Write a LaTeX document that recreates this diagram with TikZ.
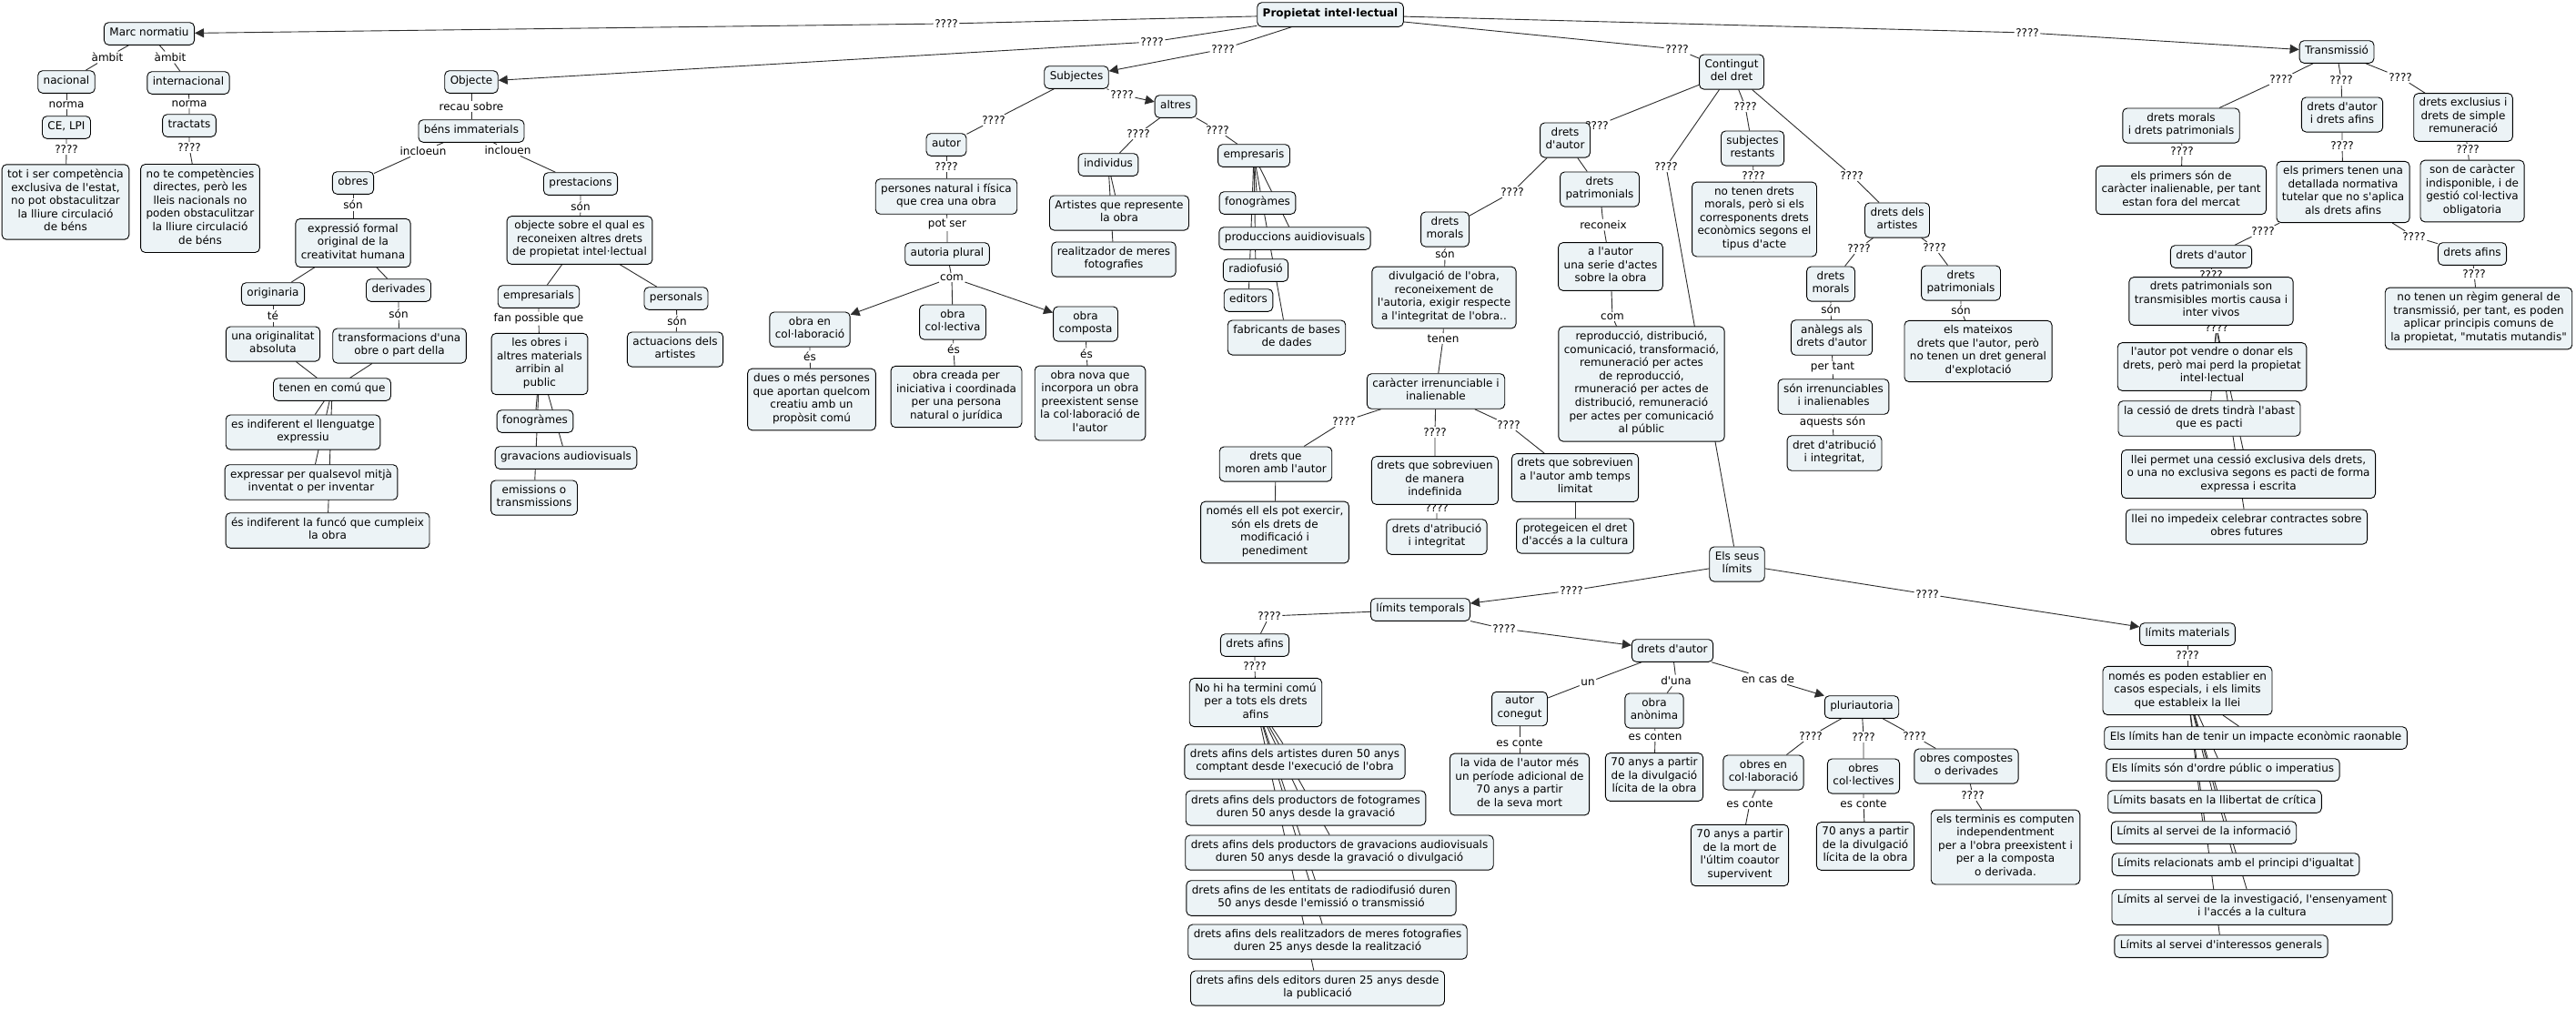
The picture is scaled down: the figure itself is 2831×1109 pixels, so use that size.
\documentclass[tikz,border=0pt]{standalone}
\usepackage{fontspec}
\setmainfont{DejaVu Sans}[Ligatures=TeXOff]
\usetikzlibrary{arrows.meta,backgrounds}
\definecolor{boxfill}{RGB}{236,243,246}
\definecolor{linkgray}{RGB}{45,45,45}
\tikzset{
  concept/.style={draw, line width=0.9pt, rounded corners=5pt, fill=boxfill,
    align=center, inner xsep=6pt, inner ysep=5pt,
    execute at begin node=\strut, execute at end node=\strut},
  lbl/.style={inner sep=1.5pt, align=center},
  link/.style={draw=linkgray, line width=0.9pt},
  arr/.style={link, -{Triangle[length=10pt,width=10pt]}}
}
\begin{document}
\begin{tikzpicture}[x=1pt,y=-1pt,font=\fontsize{12}{14.6}\selectfont]
  \useasboundingbox (0,0) rectangle (2831,1109);

  \node[concept, inner ysep=6pt] at (1462,16) (root) {\textbf{Propietat intel·lectual}};
  \node[lbl] at (1040,26) (q1) {????};
  \node[lbl] at (1266,46) (q2) {????};
  \node[lbl] at (1344,54) (q3) {????};
  \node[lbl] at (1843,54) (q4) {????};
  \node[lbl] at (2228,36) (q5) {????};

  \node[concept] at (164,37) (marc) {Marc normatiu};
  \node[lbl] at (118,63) (amb1) {àmbit};
  \node[lbl] at (187,63) (amb2) {àmbit};
  \node[concept] at (73,90) (nacional) {nacional};
  \node[concept] at (207,91) (internacional) {internacional};
  \node[lbl] at (73,115) (norma1) {norma};
  \node[lbl] at (208,114) (norma2) {norma};
  \node[concept] at (73,140) (celpi) {CE, LPI};
  \node[concept] at (208,138) (tractats) {tractats};
  \node[lbl] at (73,164) (q6) {????};
  \node[lbl] at (208,162) (q7) {????};
  \node[concept] at (72,222) (totiser) {tot i ser competència\\exclusiva de l'estat,\\no pot obstaculitzar\\la lliure circulació\\de béns};
  \node[concept] at (220,229) (note) {no te competències\\directes, però les\\lleis nacionals no\\poden obstaculitzar\\la lliure circulació\\de béns};

  \node[concept] at (518,90) (objecte) {Objecte};
  \node[lbl] at (518,117) (recau) {recau sobre};
  \node[concept] at (518,144) (bens) {béns immaterials};
  \node[lbl] at (465,166) (incloeun) {incloeun};
  \node[lbl] at (558,165) (inclouen) {inclouen};
  \node[concept] at (388,201) (obres) {obres};
  \node[concept] at (638,202) (prestacions) {prestacions};
  \node[lbl] at (388,225) (son1) {són};
  \node[lbl] at (638,227) (son2) {són};
  \node[concept] at (388,267) (expressio) {expressió formal\\original de la\\creativitat humana};
  \node[concept] at (637,264) (objsobre) {objecte sobre el qual es\\reconeixen altres drets\\de propietat intel·lectual};
  \node[concept] at (300,323) (originaria) {originaria};
  \node[concept] at (438,319) (derivades) {derivades};
  \node[lbl] at (300,347) (te) {té};
  \node[lbl] at (438,345) (son3) {són};
  \node[concept] at (300,378) (originalitat) {una originalitat\\absoluta};
  \node[concept] at (439,380) (transform) {transformacions d'una\\obre o part della};
  \node[concept] at (365,428) (tenencomu) {tenen en comú que};
  \node[concept] at (333,475) (indifllenguatge) {es indiferent el llenguatge\\expressiu};
  \node[concept] at (342,530) (expressar) {expressar per qualsevol mitjà\\inventat o per inventar};
  \node[concept] at (360,583) (indiffuncio) {és indiferent la funcó que cumpleix\\la obra};
  \node[concept] at (592,326) (empresarials) {empresarials};
  \node[concept] at (743,328) (personals) {personals};
  \node[lbl] at (592,350) (fan) {fan possible que};
  \node[lbl] at (744,353) (son4) {són};
  \node[concept] at (593,400) (obresmaterials) {les obres i\\altres materials\\arribin al\\public};
  \node[concept] at (742,384) (actuacions) {actuacions dels\\artistes};
  \node[concept] at (588,463) (fonogramesA) {fonogràmes};
  \node[concept] at (622,503) (gravacions) {gravacions audiovisuals};
  \node[concept] at (587,547) (emissions) {emissions o\\transmissions};

  \node[concept] at (1183,85) (subjectes) {Subjectes};
  \node[lbl] at (1233,104) (q9) {????};
  \node[concept] at (1292,117) (altres) {altres};
  \node[lbl] at (1092,132) (q8) {????};
  \node[concept] at (1040,159) (autor) {autor};
  \node[lbl] at (1040,183) (q10) {????};
  \node[concept] at (1040,216) (persones) {persones natural i física\\que crea una obra};
  \node[lbl] at (1041,247) (potser) {pot ser};
  \node[concept] at (1041,279) (autoria) {autoria plural};
  \node[lbl] at (1046,305) (com1) {com};
  \node[concept] at (890,362) (obracol) {obra en\\col·laboració};
  \node[concept] at (1047,354) (obracolect) {obra\\col·lectiva};
  \node[concept] at (1193,356) (obracomp) {obra\\composta};
  \node[lbl] at (890,392) (es1) {és};
  \node[lbl] at (1048,384) (es2) {és};
  \node[lbl] at (1194,389) (es3) {és};
  \node[concept] at (892,439) (duesmes) {dues o més persones\\que aportan quelcom\\creatiu amb un\\propòsit comú};
  \node[concept] at (1051,436) (obracreada) {obra creada per\\iniciativa i coordinada\\per una persona\\natural o jurídica};
  \node[concept] at (1198,443) (obranova) {obra nova que\\incorpora un obra\\preexistent sense\\la col·laboració de\\l'autor};
  \node[lbl] at (1251,147) (q11) {????};
  \node[lbl] at (1338,143) (q12) {????};
  \node[concept] at (1218,181) (individus) {individus};
  \node[concept] at (1230,234) (artistes) {Artistes que represente\\la obra};
  \node[concept] at (1224,285) (realitzador) {realitzador de meres\\fotografies};
  \node[concept] at (1378,171) (empresaris) {empresaris};
  \node[concept] at (1382,223) (fonogramesB) {fonogràmes};
  \node[concept] at (1423,262) (produccions) {produccions auidiovisuals};
  \node[concept] at (1380,297) (radiofusio) {radiofusió};
  \node[concept] at (1372,330) (editors) {editors};
  \node[concept] at (1414,371) (fabricants) {fabricants de bases\\de dades};

  \node[concept] at (1903,79) (contingut) {Contingut\\del dret};
  \node[lbl] at (1755,138) (q13) {????};
  \node[lbl] at (1831,183) (q14) {????};
  \node[lbl] at (1918,117) (q15) {????};
  \node[lbl] at (2035,193) (q16) {????};
  \node[concept] at (1720,154) (dautor) {drets\\d'autor};
  \node[lbl] at (1662,211) (q17) {????};
  \node[concept] at (1588,252) (dmorals) {drets\\morals};
  \node[concept] at (1758,208) (dpatrim) {drets\\patrimonials};
  \node[lbl] at (1588,279) (son5) {són};
  \node[concept] at (1587,327) (divulgacio) {divulgació de l'obra,\\reconeixement de\\l'autoria, exigir respecte\\a l'integritat de l'obra..};
  \node[lbl] at (1586,372) (tenen) {tenen};
  \node[concept] at (1578,430) (caracter) {caràcter irrenunciable i\\inalienable};
  \node[lbl] at (1477,463) (q18) {????};
  \node[lbl] at (1577,475) (q19) {????};
  \node[lbl] at (1658,467) (q20) {????};
  \node[concept] at (1402,510) (moren) {drets que\\moren amb l'autor};
  \node[concept] at (1401,585) (nomesell) {només ell els pot exercir,\\són els drets de\\modificació i\\penediment};
  \node[lbl] at (1579,558) (q21) {????};
  \node[concept] at (1577,528) (indefinida) {drets que sobreviuen\\de manera\\indefinida};
  \node[concept] at (1579,590) (datribucio) {drets d'atribució\\i integritat};
  \node[concept] at (1731,525) (limitat) {drets que sobreviuen\\a l'autor amb temps\\limitat};
  \node[concept] at (1731,589) (protegeicen) {protegeicen el dret\\d'accés a la cultura};
  \node[lbl] at (1762,247) (reconeix) {reconeix};
  \node[concept] at (1770,293) (alautor) {a l'autor\\una serie d'actes\\sobre la obra};
  \node[lbl] at (1772,348) (com2) {com};
  \node[concept] at (1804,422) (reproduccio) {reproducció, distribució,\\comunicació, transformació,\\remuneració per actes\\de reproducció,\\rmuneració per actes de\\distribució, remuneració\\per actes per comunicació\\al públic};
  \node[concept] at (1926,163) (subrest) {subjectes\\restants};
  \node[lbl] at (1927,193) (q22) {????};
  \node[concept] at (1928,241) (notenen) {no tenen drets\\morals, però si els\\corresponents drets\\econòmics segons el\\tipus d'acte};
  \node[concept] at (2085,242) (dartistes) {drets dels\\artistes};
  \node[lbl] at (2043,273) (q23) {????};
  \node[lbl] at (2126,272) (q24) {????};
  \node[concept] at (2012,312) (dmoralsB) {drets\\morals};
  \node[lbl] at (2012,340) (son6) {són};
  \node[concept] at (2013,371) (analegs) {anàlegs als\\drets d'autor};
  \node[lbl] at (2014,404) (pertant) {per tant};
  \node[concept] at (2015,436) (irrenunciables) {són irrenunciables\\i inalienables};
  \node[lbl] at (2014,464) (aquests) {aquests són};
  \node[concept] at (2016,498) (datribucioB) {dret d'atribució\\i integritat,};
  \node[concept] at (2155,311) (dpatrimB) {drets\\patrimonials};
  \node[lbl] at (2155,341) (son7) {són};
  \node[concept] at (2174,386) (mateixos) {els mateixos\\drets que l'autor, però\\no tenen un dret general\\d'explotació};

  \node[concept] at (2568,57) (transmissio) {Transmissió};
  \node[lbl] at (2507,87) (q25) {????};
  \node[lbl] at (2573,88) (q26) {????};
  \node[lbl] at (2638,85) (q27) {????};
  \node[concept] at (2397,138) (tmorals) {drets morals\\i drets patrimonials};
  \node[concept] at (2574,126) (tautor) {drets d'autor\\i drets afins};
  \node[concept] at (2707,129) (texclusius) {drets exclusius i\\drets de simple\\remuneració};
  \node[lbl] at (2398,166) (q28) {????};
  \node[lbl] at (2574,160) (q29) {????};
  \node[lbl] at (2712,164) (q30) {????};
  \node[concept] at (2397,209) (tprimers) {els primers són de\\caràcter inalienable, per tant\\estan fora del mercat};
  \node[concept] at (2575,211) (tprimersB) {els primers tenen una\\detallada normativa\\tutelar que no s'aplica\\als drets afins};
  \node[concept] at (2717,210) (tcaracter) {son de caràcter\\indisponible, i de\\gestió col·lectiva\\obligatoria};
  \node[lbl] at (2487,254) (q31) {????};
  \node[lbl] at (2653,260) (q32) {????};
  \node[lbl] at (2430,302) (q34) {????};
  \node[lbl] at (2436,360) (q35) {????};
  \node[concept] at (2430,282) (tdautor) {drets d'autor};
  \node[concept] at (2717,279) (tdafins) {drets afins};
  \node[lbl] at (2719,301) (q33) {????};
  \node[concept] at (2724,350) (tregim) {no tenen un règim general de\\transmissió, per tant, es poden\\aplicar principis comuns de\\la propietat, "mutatis mutandis"};
  \node[concept] at (2430,331) (tpatrim) {drets patrimonials son\\transmisibles mortis causa i\\inter vivos};
  \node[concept] at (2431,403) (tvendre) {l'autor pot vendre o donar els\\drets, però mai perd la propietat\\intel·lectual};
  \node[concept] at (2428,460) (tcessio) {la cessió de drets tindrà l'abast\\que es pacti};
  \node[concept] at (2471,521) (tpermet) {llei permet una cessió exclusiva dels drets,\\o una no exclusiva segons es pacti de forma\\expressa i escrita};
  \node[concept] at (2469,579) (tnoimpedeix) {llei no impedeix celebrar contractes sobre\\obres futures};

  \node[concept] at (1909,620) (limits) {Els seus\\límits};
  \node[lbl] at (1727,649) (q36) {????};
  \node[lbl] at (2118,653) (q37) {????};
  \node[concept] at (1561,670) (temporals) {límits temporals};
  \node[lbl] at (1395,677) (q38) {????};
  \node[lbl] at (1653,691) (q39) {????};
  \node[concept] at (1379,709) (lafins) {drets afins};
  \node[lbl] at (1379,732) (q40) {????};
  \node[concept] at (1380,772) (nohiha) {No hi ha termini comú\\per a tots els drets\\afins};
  \node[concept] at (1423,837) (afins1) {drets afins dels artistes duren 50 anys\\comptant desde l'execució de l'obra};
  \node[concept] at (1435,888) (afins2) {drets afins dels productors de fotogrames\\duren 50 anys desde la gravació};
  \node[concept] at (1472,937) (afins3) {drets afins dels productors de gravacions audiovisuals\\duren 50 anys desde la gravació o divulgació};
  \node[concept] at (1452,987) (afins4) {drets afins de les entitats de radiodifusió duren\\50 anys desde l'emissió o transmissió};
  \node[concept] at (1459,1035) (afins5) {drets afins dels realitzadors de meres fotografies\\duren 25 anys desde la realització};
  \node[concept] at (1448,1086) (afins6) {drets afins dels editors duren 25 anys desde\\la publicació};
  \node[concept] at (1838,715) (ldautor) {drets d'autor};
  \node[lbl] at (1745,750) (un) {un};
  \node[lbl] at (1842,748) (duna) {d'una};
  \node[lbl] at (1943,746) (encas) {en cas de};
  \node[concept] at (1670,779) (conegut) {autor\\conegut};
  \node[concept] at (1818,781) (anonima) {obra\\anònima};
  \node[lbl] at (1670,816) (esconte1) {es conte};
  \node[lbl] at (1819,809) (esconten) {es conten};
  \node[concept] at (1670,862) (vida) {la vida de l'autor més\\un període adicional de\\70 anys a partir\\de la seva mort};
  \node[concept] at (1818,854) (setantaA) {70 anys a partir\\de la divulgació\\lícita de la obra};
  \node[concept] at (2046,777) (pluri) {pluriautoria};
  \node[lbl] at (1990,809) (q41) {????};
  \node[lbl] at (2048,810) (q42) {????};
  \node[lbl] at (2104,809) (q43) {????};
  \node[concept] at (1938,849) (pcolab) {obres en\\col·laboració};
  \node[concept] at (2048,853) (pcolect) {obres\\col·lectives};
  \node[concept] at (2161,842) (pcomp) {obres compostes\\o derivades};
  \node[lbl] at (1923,883) (esconte2) {es conte};
  \node[lbl] at (2048,883) (esconte3) {es conte};
  \node[lbl] at (2168,874) (q44) {????};
  \node[concept] at (1912,940) (setantaB) {70 anys a partir\\de la mort de\\l'últim coautor\\supervivent};
  \node[concept] at (2050,930) (setantaC) {70 anys a partir\\de la divulgació\\lícita de la obra};
  \node[concept] at (2204,931) (terminis) {els terminis es computen\\independentment\\per a l'obra preexistent i\\per a la composta\\o derivada.};
  \node[concept] at (2404,697) (materials) {límits materials};
  \node[lbl] at (2404,720) (q45) {????};
  \node[concept] at (2404,759) (nomeses) {només es poden establier en\\casos especials, i els limits\\que estableix la llei};
  \node[concept] at (2479,811) (mat1) {Els límits han de tenir un impacte econòmic raonable};
  \node[concept] at (2443,846) (mat2) {Els límits són d'ordre públic o imperatius};
  \node[concept] at (2434,881) (mat3) {Límits basats en la llibertat de crítica};
  \node[concept] at (2422,915) (mat4) {Límits al servei de la informació};
  \node[concept] at (2457,950) (mat5) {Límits relacionats amb el principi d'igualtat};
  \node[concept] at (2475,997) (mat6) {Límits al servei de la investigació, l'ensenyament\\i l'accés a la cultura};
  \node[concept] at (2441,1040) (mat7) {Límits al servei d'interessos generals};

  \begin{pgfonlayer}{background}
    \fill[white] (0,0) rectangle (2831,1109);

    \draw[arr] (root) -- (q1) -- (marc);
    \draw[arr] (root) -- (q2) -- (objecte);
    \draw[arr] (root) -- (q3) -- (subjectes);
    \draw[link] (root) -- (q4) -- (contingut);
    \draw[arr] (root) -- (q5) -- (transmissio);

    \draw[link] (marc) -- (amb1) -- (nacional);
    \draw[link] (marc) -- (amb2) -- (internacional);
    \draw[link] (nacional) -- (norma1) -- (celpi);
    \draw[link] (internacional) -- (norma2) -- (tractats);
    \draw[link] (celpi) -- (q6) -- (totiser);
    \draw[link] (tractats) -- (q7) -- (note);

    \draw[link] (objecte) -- (recau) -- (bens);
    \draw[link] (bens) -- (incloeun) -- (obres);
    \draw[link] (bens) -- (inclouen) -- (prestacions);
    \draw[link] (obres) -- (son1) -- (expressio);
    \draw[link] (prestacions) -- (son2) -- (objsobre);
    \draw[link] (expressio) -- (originaria);
    \draw[link] (expressio) -- (derivades);
    \draw[link] (originaria) -- (te) -- (originalitat);
    \draw[link] (derivades) -- (son3) -- (transform);
    \draw[link] (originalitat) -- (tenencomu);
    \draw[link] (transform) -- (tenencomu);
    \foreach \n in {indifllenguatge,expressar,indiffuncio}
      \draw[link] (tenencomu) -- (\n);
    \draw[link] (objsobre) -- (empresarials);
    \draw[link] (objsobre) -- (personals);
    \draw[link] (empresarials) -- (fan) -- (obresmaterials);
    \draw[link] (personals) -- (son4) -- (actuacions);
    \foreach \n in {fonogramesA,gravacions,emissions}
      \draw[link] (obresmaterials) -- (\n);

    \draw[link] (subjectes) -- (q8) -- (autor);
    \draw[arr] (subjectes) -- (q9) -- (altres);
    \draw[link] (autor) -- (q10) -- (persones);
    \draw[link] (persones) -- (potser) -- (autoria);
    \draw[link] (autoria) -- (com1);
    \draw[arr] (com1) -- (obracol);
    \draw[link] (com1) -- (obracolect);
    \draw[arr] (com1) -- (obracomp);
    \draw[link] (obracol) -- (es1) -- (duesmes);
    \draw[link] (obracolect) -- (es2) -- (obracreada);
    \draw[link] (obracomp) -- (es3) -- (obranova);
    \draw[link] (altres) -- (q11) -- (individus);
    \draw[link] (altres) -- (q12) -- (empresaris);
    \foreach \n in {artistes,realitzador}
      \draw[link] (individus) -- (\n);
    \foreach \n in {fonogramesB,produccions,radiofusio,editors,fabricants}
      \draw[link] (empresaris) -- (\n);

    \draw[link] (contingut) -- (q13) -- (dautor);
    \draw[link] (contingut) -- (q14) -- (limits);
    \draw[link] (contingut) -- (q15) -- (subrest);
    \draw[link] (contingut) -- (q16) -- (dartistes);
    \draw[link] (dautor) -- (q17) -- (dmorals);
    \draw[link] (dautor) -- (dpatrim);
    \draw[link] (dmorals) -- (son5) -- (divulgacio);
    \draw[link] (divulgacio) -- (tenen) -- (caracter);
    \draw[link] (caracter) -- (q18) -- (moren);
    \draw[link] (caracter) -- (q19) -- (indefinida);
    \draw[link] (caracter) -- (q20) -- (limitat);
    \draw[link] (moren) -- (nomesell);
    \draw[link] (indefinida) -- (q21) -- (datribucio);
    \draw[link] (limitat) -- (protegeicen);
    \draw[link] (dpatrim) -- (reconeix) -- (alautor);
    \draw[link] (alautor) -- (com2) -- (reproduccio);
    \draw[link] (subrest) -- (q22) -- (notenen);
    \draw[link] (dartistes) -- (q23) -- (dmoralsB);
    \draw[link] (dartistes) -- (q24) -- (dpatrimB);
    \draw[link] (dmoralsB) -- (son6) -- (analegs);
    \draw[link] (analegs) -- (pertant) -- (irrenunciables);
    \draw[link] (irrenunciables) -- (aquests) -- (datribucioB);
    \draw[link] (dpatrimB) -- (son7) -- (mateixos);

    \draw[link] (transmissio) -- (q25) -- (tmorals);
    \draw[link] (transmissio) -- (q26) -- (tautor);
    \draw[link] (transmissio) -- (q27) -- (texclusius);
    \draw[link] (tmorals) -- (q28) -- (tprimers);
    \draw[link] (tautor) -- (q29) -- (tprimersB);
    \draw[link] (texclusius) -- (q30) -- (tcaracter);
    \draw[link] (tprimersB) -- (q31) -- (tdautor);
    \draw[link] (tprimersB) -- (q32) -- (tdafins);
    \draw[link] (tdafins) -- (q33) -- (tregim);
    \draw[link] (tdautor) -- (q34) -- (tpatrim);
    \draw[link] (tpatrim) -- (q35);
    \foreach \n in {tvendre,tcessio,tpermet,tnoimpedeix}
      \draw[link] (q35) -- (\n);

    \draw[arr] (limits) -- (q36) -- (temporals);
    \draw[arr] (limits) -- (q37) -- (materials);
    \draw[link] (temporals) -- (q38) -- (lafins);
    \draw[arr] (temporals) -- (q39) -- (ldautor);
    \draw[link] (lafins) -- (q40) -- (nohiha);
    \foreach \i in {1,...,6}
      \draw[link] (nohiha) -- (afins\i);
    \draw[link] (ldautor) -- (un) -- (conegut);
    \draw[link] (ldautor) -- (duna) -- (anonima);
    \draw[arr] (ldautor) -- (encas) -- (pluri);
    \draw[link] (conegut) -- (esconte1) -- (vida);
    \draw[link] (anonima) -- (esconten) -- (setantaA);
    \draw[link] (pluri) -- (q41) -- (pcolab);
    \draw[link] (pluri) -- (q42) -- (pcolect);
    \draw[link] (pluri) -- (q43) -- (pcomp);
    \draw[link] (pcolab) -- (esconte2) -- (setantaB);
    \draw[link] (pcolect) -- (esconte3) -- (setantaC);
    \draw[link] (pcomp) -- (q44) -- (terminis);
    \draw[link] (materials) -- (q45) -- (nomeses);
    \foreach \i in {1,...,7}
      \draw[link] (nomeses) -- (mat\i);
  \end{pgfonlayer}
\end{tikzpicture}
\end{document}
